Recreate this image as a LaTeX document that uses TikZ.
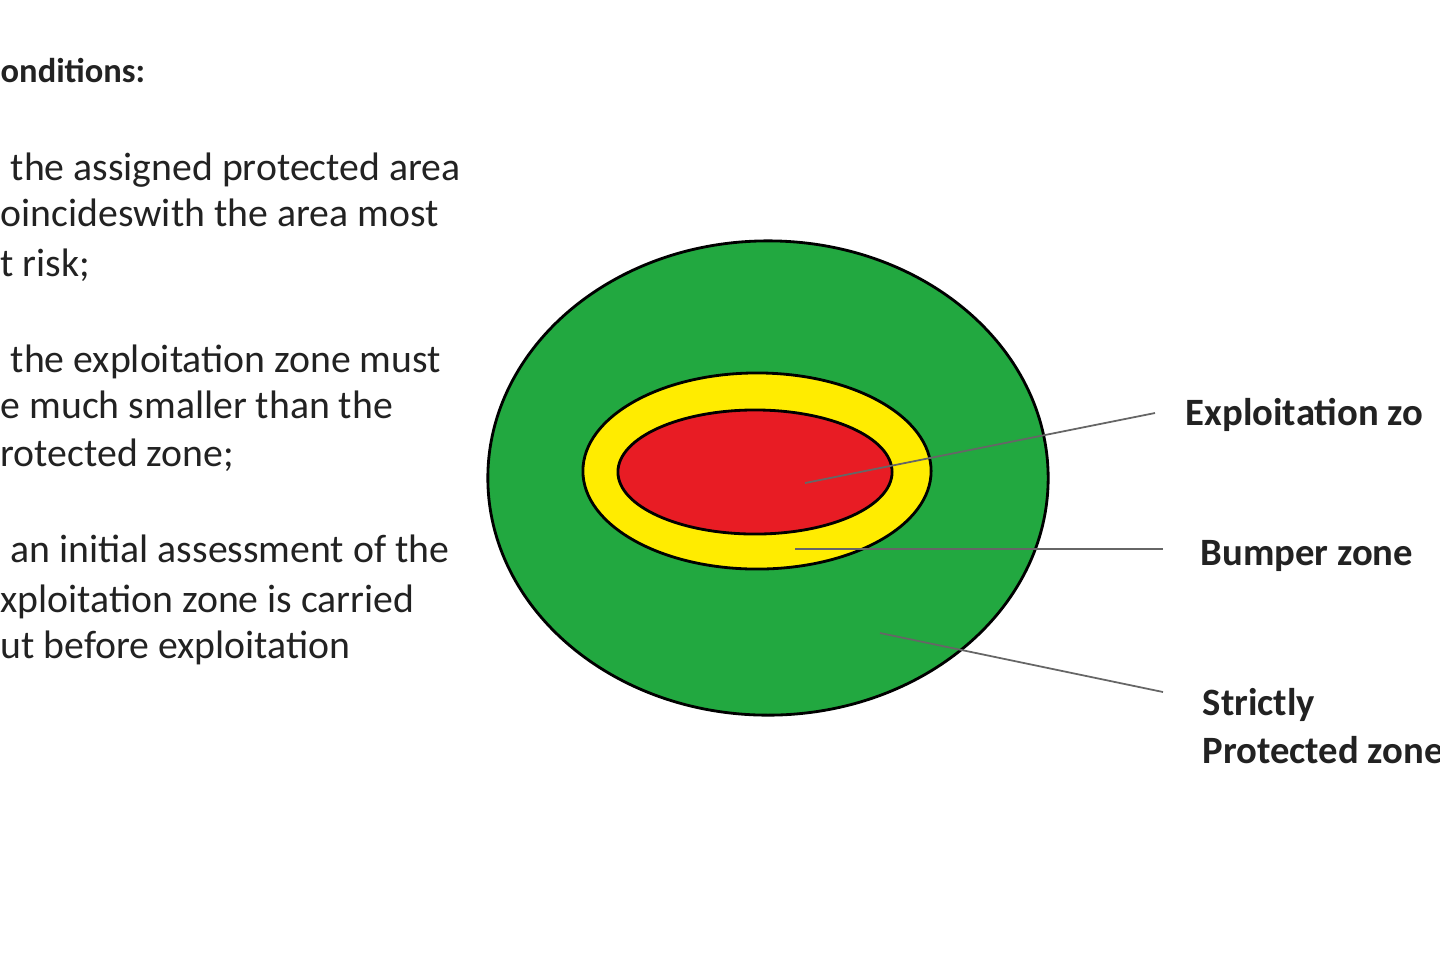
\documentclass[tikz,border=0pt]{standalone}
\usetikzlibrary{shapes.geometric}
\usepackage{fontspec}
\setmainfont{Carlito}
\definecolor{gz}{RGB}{34,168,64}
\definecolor{yz}{RGB}{255,236,0}
\definecolor{rz}{RGB}{232,28,36}
\definecolor{tx}{RGB}{34,34,34}
\begin{document}
\begin{tikzpicture}[x=0.01cm,y=-0.01cm,
  body/.style={anchor=base west,inner sep=0,text=tx,font=\fontsize{11.3}{14}\selectfont},
  lab/.style={anchor=base west,inner sep=0,text=tx,font=\bfseries\fontsize{11}{14}\selectfont},
  lead/.style={draw=gray!80!black,line width=0.5pt}]
\useasboundingbox (0,0) rectangle (1440,960);
\clip (0,0) rectangle (1440,960);
\node[lab,font=\bfseries\fontsize{9.8}{12}\selectfont] (t0) at (0,82) {onditions:};
\node[body] (a1) at (10,180) {the assigned protected area};
\node[body] (a2) at (0,226) {oincideswith the area most};
\node[body] (a3) at (0,276) {t risk;};
\node[body] (b1) at (10,372) {the exploitation zone must};
\node[body] (b2) at (0,418) {e much smaller than the};
\node[body] (b3) at (0,466) {rotected zone;};
\node[body] (c1) at (10,562) {an initial assessment of the};
\node[body] (c2) at (0,612) {xploitation zone is carried};
\node[body] (c3) at (0,658) {ut before exploitation};
\node[draw,thick,fill=gz,ellipse,minimum width=5.6cm,minimum height=4.74cm,inner sep=0] (g) at (768,478) {};
\node[draw,thick,fill=yz,ellipse,minimum width=3.48cm,minimum height=1.96cm,inner sep=0] (y) at (757,471) {};
\node[draw,thick,fill=rz,ellipse,minimum width=2.74cm,minimum height=1.24cm,inner sep=0] (r) at (755,472) {};
\coordinate (e0) at (805,483); \coordinate (e1) at (1155,413);
\coordinate (b0) at (795,549); \coordinate (b1e) at (1163,549);
\coordinate (s0) at (880,633); \coordinate (s1) at (1163,692);
\draw[lead] (e0) -- (e1);
\draw[lead] (b0) -- (b1e);
\draw[lead] (s0) -- (s1);
\node[lab] (le) at (1185,425) {Exploitation zo};
\node[lab] (lb) at (1200,565) {Bumper zone};
\node[lab] (ls1) at (1202,715) {Strictly};
\node[lab] (ls2) at (1202,763) {Protected zone};
\end{tikzpicture}
\end{document}
